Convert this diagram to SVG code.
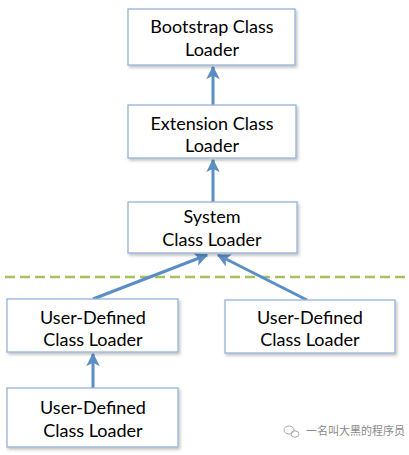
<svg xmlns="http://www.w3.org/2000/svg" width="409" height="455" viewBox="0 0 409 455">
<style>
.box{fill:#ffffff;stroke:#95b3d7;stroke-width:1.3;filter:url(#sh)}
.t{font-family:Lato,"Open Sans","Liberation Sans",sans-serif;font-size:18px;fill:#000;text-anchor:middle}
.c{stroke:#5b8ec4;stroke-width:3;fill:none;marker-end:url(#ah)}
.wm{font-family:"Noto Sans CJK SC",sans-serif;font-size:11px;fill:#8a8a8a}
</style>
<defs>
<filter id="sh" x="-10%" y="-10%" width="130%" height="140%">
<feDropShadow dx="1.5" dy="2" stdDeviation="1.5" flood-color="#000" flood-opacity="0.25"/>
</filter>
<marker id="ah" viewBox="0 0 10 10" refX="9" refY="5" markerWidth="4.5" markerHeight="4.5" orient="auto" markerUnits="strokeWidth">
<path d="M0,0 L10,5 L0,10 L2.5,5 Z" fill="#5b8ec4"/>
</marker>
</defs>
<rect width="409" height="455" fill="#ffffff"/>
<line x1="5" y1="277" x2="405" y2="277" stroke="#a8c060" stroke-width="2.5" stroke-dasharray="10,5"/>
<g id="connectors">
<line class="c" x1="213" y1="105" x2="213" y2="67"/>
<line class="c" x1="213" y1="202" x2="213" y2="160"/>
<line class="c" x1="93" y1="299" x2="207" y2="255"/>
<line class="c" x1="307" y1="300" x2="218" y2="255"/>
<line class="c" x1="93" y1="388" x2="93" y2="354"/>
</g>
<g id="bootstrap">
<rect class="box" x="128" y="9" width="167" height="56"/>
<text class="t" x="212" y="33">Bootstrap Class</text>
<text class="t" x="212" y="56">Loader</text>
</g>
<g id="extension">
<rect class="box" x="128" y="105" width="168" height="53"/>
<text class="t" x="212" y="130">Extension Class</text>
<text class="t" x="212" y="152">Loader</text>
</g>
<g id="system">
<rect class="box" x="128" y="202" width="169" height="51"/>
<text class="t" x="212" y="223">System</text>
<text class="t" x="212" y="246">Class Loader</text>
</g>
<g id="user1">
<rect class="box" x="7" y="299" width="171" height="53"/>
<text class="t" x="93" y="324">User-Defined</text>
<text class="t" x="93" y="346">Class Loader</text>
</g>
<g id="user2">
<rect class="box" x="225" y="300" width="170" height="53"/>
<text class="t" x="310" y="324">User-Defined</text>
<text class="t" x="310" y="346">Class Loader</text>
</g>
<g id="user3">
<rect class="box" x="7" y="388" width="171" height="59"/>
<text class="t" x="93" y="414">User-Defined</text>
<text class="t" x="93" y="437">Class Loader</text>
</g>
<g id="watermark">
<ellipse cx="289" cy="430" rx="5" ry="4" fill="none" stroke="#aaa" stroke-width="1"/>
<ellipse cx="295" cy="434" rx="4" ry="3.2" fill="none" stroke="#aaa" stroke-width="1"/>
<text class="wm" x="306" y="435">一名叫大黑的程序员</text>
</g>
</svg>
